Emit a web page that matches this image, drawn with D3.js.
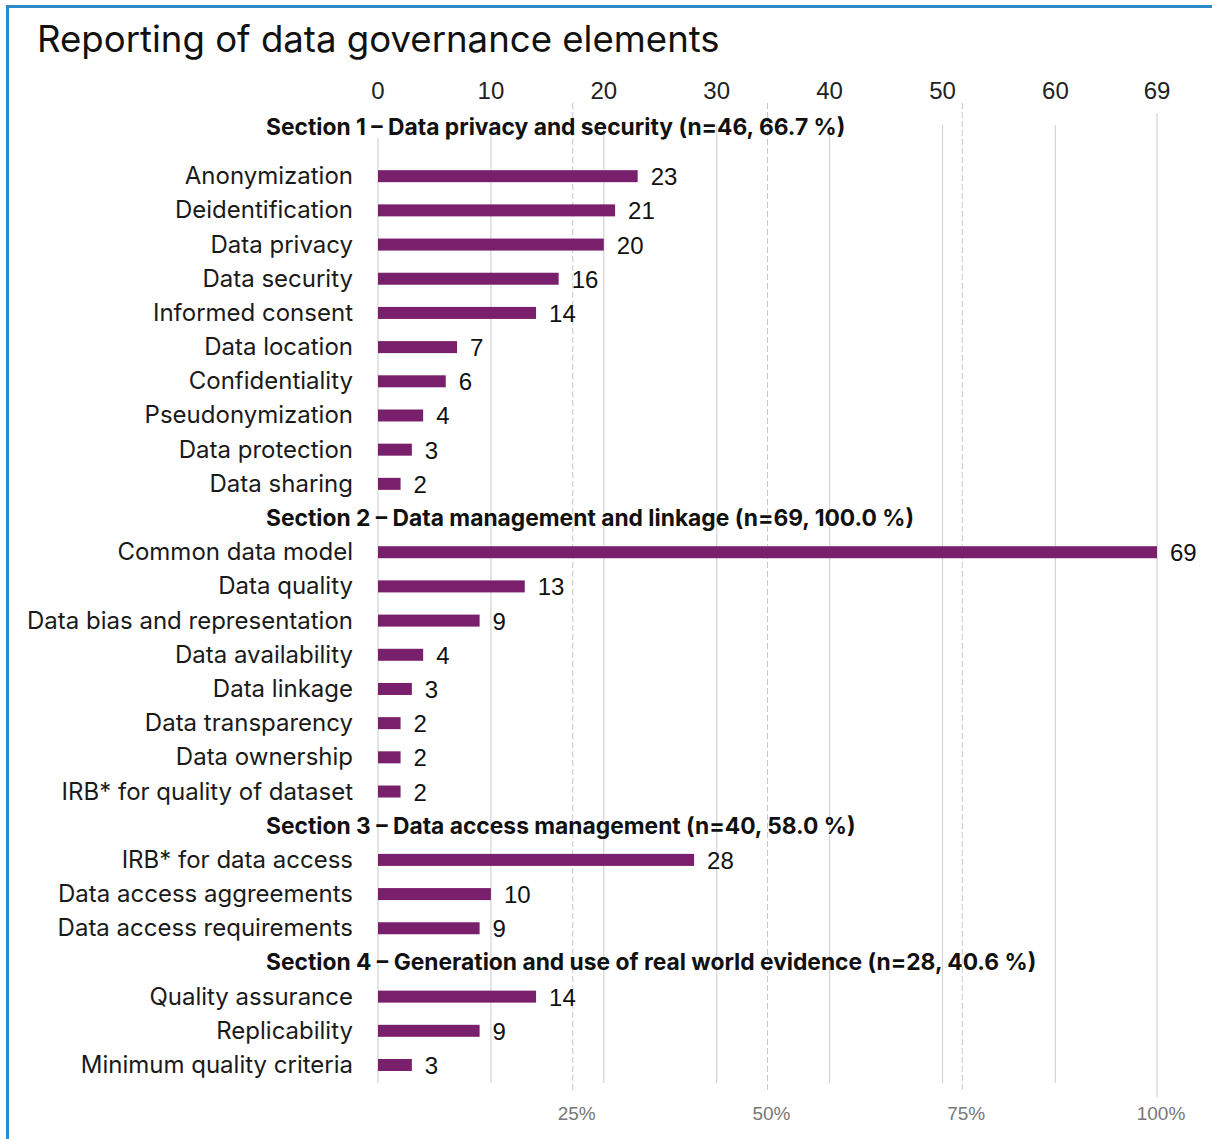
<!DOCTYPE html>
<html>
<head>
<meta charset="utf-8">
<script src="https://cdn.jsdelivr.net/npm/d3@7"></script>
<style>
  body { margin: 0; background: #fff; }
  svg { display: block; }
</style>
</head>
<body>
<div id="chart"></div>
<script>
// section headers and their items (in drawing order)
const sections = [
  "Section 1 – Data privacy and security (n=46, 66.7 %)",
  "Section 2 – Data management and linkage (n=69, 100.0 %)",
  "Section 3 – Data access management (n=40, 58.0 %)",
  "Section 4 – Generation and use of real world evidence (n=28, 40.6 %)",
];
const section1Items = ["Anonymization", "Deidentification", "Data privacy", "Data security", "Informed consent", "Data location", "Confidentiality", "Pseudonymization", "Data protection", "Data sharing"];
const section1Values = [23, 21, 20, 16, 14, 7, 6, 4, 3, 2];
const section2Items = ["Common data model", "Data quality", "Data bias and representation", "Data availability", "Data linkage", "Data transparency", "Data ownership", "IRB* for quality of dataset"];
const section2Values = [69, 13, 9, 4, 3, 2, 2, 2];
const section3Items = ["IRB* for data access", "Data access aggreements", "Data access requirements"];
const section3Values = [28, 10, 9];
const section4Items = ["Quality assurance", "Replicability", "Minimum quality criteria"];
const section4Values = [14, 9, 3];

const countTicks = [0, 10, 20, 30, 40, 50, 60, 69];
const percentTicks = [0.25, 0.5, 0.75, 1];
const total = 69;

// build the row list: header row then its items
const groups = [
  [section1Items, section1Values],
  [section2Items, section2Values],
  [section3Items, section3Values],
  [section4Items, section4Values],
];
const rows = [];
groups.forEach(([items, values], s) => {
  rows.push({ type: "header", label: sections[s], section: s });
  items.forEach((name, i) => rows.push({ type: "bar", label: name, value: values[i], section: s }));
});

const W = 1212, H = 1139;
const svg = d3.select("#chart").append("svg").attr("width", W).attr("height", H);

// frame
svg.append("path")
  .attr("d", `M7.5,${H} V6.5 H${W}`)
  .attr("fill", "none")
  .attr("stroke", "#2b8bcb")
  .attr("stroke-width", 3);

svg.append("text")
  .attr("x", 37).attr("y", 52)
  .style("font-family", "Inter, 'Open Sans', sans-serif")
  .style("font-size", "36.6px")
  .attr("fill", "#111")
  .text("Reporting of data governance elements");

const x = d3.scaleLinear().domain([0, total]).range([378, 1157]);
const y = d3.scalePoint().domain(d3.range(rows.length)).range([142, 1065]);

// percent (dashed) lines
svg.append("g").selectAll("line")
  .data(percentTicks.filter((p) => p < 1))
  .join("line")
  .attr("x1", (d) => x(d * total)).attr("x2", (d) => x(d * total))
  .attr("y1", 103).attr("y2", 1092)
  .attr("stroke", "#c8c8c8")
  .attr("stroke-dasharray", "6,3");

// count gridlines (solid)
svg.append("g").selectAll("line")
  .data(countTicks)
  .join("line")
  .attr("x1", (d) => x(d)).attr("x2", (d) => x(d))
  .attr("y1", (d) => (d === 0 ? 138 : d === total ? 113 : 125))
  .attr("y2", (d) => (d === total ? 1097 : 1083))
  .attr("stroke", "#d6d6d6")
  .attr("stroke-width", 1.3);

// top count labels
svg.append("g").selectAll("text")
  .data(countTicks)
  .join("text")
  .attr("x", (d) => x(d)).attr("y", 99)
  .attr("text-anchor", "middle")
  .style("font-family", "'Liberation Sans', Arial, sans-serif")
  .style("font-size", "24px")
  .attr("fill", "#222")
  .text((d) => d);

// bottom percent labels
svg.append("g").selectAll("text")
  .data(percentTicks)
  .join("text")
  .attr("x", (d) => x(d * total) + 4).attr("y", 1120)
  .attr("text-anchor", "middle")
  .style("font-family", "'Liberation Sans Narrow', 'Liberation Sans', Arial, sans-serif")
  .style("font-size", "19px")
  .style("font-stretch", "condensed")
  .attr("fill", "#777")
  .text((d) => d3.format(".0%")(d));

const rowY = (d, i) => y(i) - (d.type === "header" && d.section === 0 ? 15 : 0);

// headers
svg.append("g").selectAll("text")
  .data(rows.map((d, i) => ({ ...d, i })).filter((d) => d.type === "header"))
  .join("text")
  .attr("x", 266).attr("y", (d) => rowY(d, d.i) + 8)
  .style("font-family", "Inter, 'Open Sans', sans-serif")
  .style("font-size", "22.8px")
  .style("font-weight", 700)
  .attr("fill", "#111")
  .text((d) => d.label);

const barRows = rows.map((d, i) => ({ ...d, i })).filter((d) => d.type === "bar");

// category labels
svg.append("g").selectAll("text")
  .data(barRows)
  .join("text")
  .attr("x", 353).attr("y", (d) => y(d.i) + 8)
  .attr("text-anchor", "end")
  .style("font-family", "Inter, 'Open Sans', sans-serif")
  .style("font-size", "24px")
  .attr("fill", "#1a1a1a")
  .text((d) => d.label);

// bars
svg.append("g").selectAll("rect")
  .data(barRows)
  .join("rect")
  .attr("x", x(0)).attr("y", (d) => y(d.i) - 6)
  .attr("width", (d) => x(d.value) - x(0))
  .attr("height", 12)
  .attr("fill", "#7a1f6b");

// value labels
svg.append("g").selectAll("text")
  .data(barRows)
  .join("text")
  .attr("x", (d) => x(d.value) + 13).attr("y", (d) => y(d.i) + 9)
  .style("font-family", "'Liberation Sans', Arial, sans-serif")
  .style("font-size", "24px")
  .attr("fill", "#111")
  .text((d) => d.value);
</script>
</body>
</html>
